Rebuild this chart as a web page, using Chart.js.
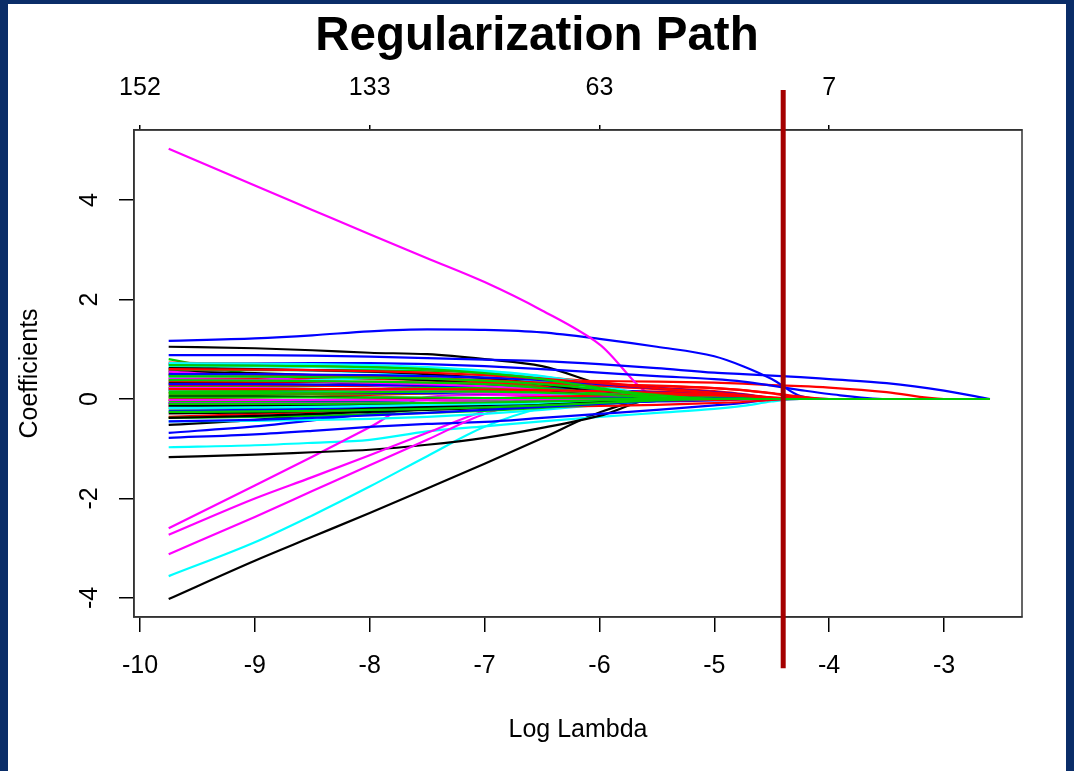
<!DOCTYPE html>
<html>
<head>
<meta charset="utf-8">
<title>Regularization Path</title>
<script src="https://cdn.jsdelivr.net/npm/chart.js@4.4.1/dist/chart.umd.min.js"></script>
<style>
  html, body { margin: 0; padding: 0; }
  body { width: 1074px; height: 771px; background: #0a2d68; overflow: hidden; }
  #panel { position: absolute; left: 8px; top: 4px; width: 1058px; height: 767px; background: #fff; }
  #chartPath { display: block; }
</style>
</head>
<body>
<div id="panel"><canvas id="chartPath" width="1058" height="767"></canvas></div>
<script>
// log(lambda) grid shared by every coefficient path
const logLambda = [-9.75, -9, -8.5, -8, -7.5, -7, -6.5, -6, -5.5, -5, -4.75, -4.5, -4.25, -4, -3.5, -3, -2.6];

// coefficient paths, grouped by line colour
const blackPaths = [
  [1.05, 1.02, 0.98, 0.93, 0.90, 0.80, 0.66, 0.30, 0,   0, 0, 0, 0, 0, 0, 0, 0],
  [-4.02, -3.25, -2.77, -2.29, -1.80, -1.30, -0.79, -0.27, 0,   0, 0, 0, 0, 0, 0, 0, 0],
  [-1.17, -1.12, -1.07, -1.02, -0.92, -0.78, -0.58, -0.34, 0,   0, 0, 0, 0, 0, 0, 0, 0],
  [-0.52, -0.42, -0.32, -0.22, -0.14, -0.08, -0.03, 0, 0,   0, 0, 0, 0, 0, 0, 0, 0],
  [0.55, 0.52, 0.48, 0.44, 0.38, 0.30, 0.20, 0.08, 0,   0, 0, 0, 0, 0, 0, 0, 0],
  [0.32, 0.33, 0.34, 0.33, 0.32, 0.28, 0.20, 0.08, 0,   0, 0, 0, 0, 0, 0, 0, 0],
  [0.05, 0.05, 0.04, 0.03, 0.02, 0.02, 0.01, 0, 0,   0, 0, 0, 0, 0, 0, 0, 0],
  [-0.29, -0.27, -0.24, -0.20, -0.16, -0.12, -0.08, -0.04, 0,   0, 0, 0, 0, 0, 0, 0, 0],
  [-0.14, -0.14, -0.13, -0.12, -0.10, -0.08, -0.05, -0.02, 0,   0, 0, 0, 0, 0, 0, 0, 0],
  [0.62, 0.60, 0.58, 0.55, 0.50, 0.42, 0.30, 0.14, 0.01,   0, 0, 0, 0, 0, 0, 0, 0],
  [-0.38, -0.34, -0.30, -0.26, -0.22, -0.18, -0.12, -0.06, 0,   0, 0, 0, 0, 0, 0, 0, 0]
];
const redPaths = [
  [0.42, 0.41, 0.41, 0.40, 0.39, 0.38, 0.37, 0.36, 0.35,   0.33, 0.31, 0.28, 0.26, 0.23, 0.14, 0, 0],
  [0.48, 0.46, 0.44, 0.42, 0.39, 0.36, 0.33, 0.30, 0.27,   0.22, 0.18, 0.12, 0.05, 0, 0, 0, 0],
  [0.73, 0.71, 0.69, 0.66, 0.60, 0.52, 0.44, 0.34, 0.22,   0.12, 0.07, 0.02, 0, 0, 0, 0, 0],
  [0.28, 0.28, 0.27, 0.26, 0.25, 0.25, 0.25, 0.24, 0.22,   0.16, 0.10, 0.03, 0, 0, 0, 0, 0],
  [0.01, 0.03, 0.05, 0.08, 0.11, 0.14, 0.16, 0.16, 0.15,   0.12, 0.08, 0.02, 0, 0, 0, 0, 0],
  [0.12, 0.12, 0.12, 0.12, 0.12, 0.12, 0.11, 0.10, 0.08,   0.05, 0.03, 0.01, 0, 0, 0, 0, 0],
  [-0.36, -0.30, -0.26, -0.22, -0.20, -0.18, -0.16, -0.14, -0.12,   -0.08, -0.06, -0.02, 0, 0, 0, 0, 0],
  [-0.14, -0.13, -0.12, -0.11, -0.10, -0.08, -0.06, -0.04, -0.03,   -0.02, -0.01, 0, 0, 0, 0, 0, 0],
  [0.36, 0.35, 0.35, 0.34, 0.33, 0.32, 0.30, 0.28, 0.26,   0.22, 0.18, 0.11, 0.02, 0, 0, 0, 0],
  [0.50, 0.49, 0.47, 0.45, 0.42, 0.38, 0.33, 0.27, 0.20,   0.12, 0.07, 0.02, 0, 0, 0, 0, 0],
  [-0.02, -0.02, -0.02, -0.01, -0.01, 0.01, 0.04, 0.07, 0.08,   0.07, 0.06, 0.03, 0.01, 0, 0, 0, 0],
  [0.60, 0.59, 0.58, 0.56, 0.53, 0.48, 0.41, 0.32, 0.22,   0.13, 0.08, 0.03, 0, 0, 0, 0, 0],
  [0.20, 0.20, 0.20, 0.20, 0.20, 0.19, 0.18, 0.16, 0.13,   0.09, 0.06, 0.02, 0, 0, 0, 0, 0]
];
const greenPaths = [
  [0.80, 0.50, 0.46, 0.42, 0.38, 0.32, 0.24, 0.14, 0.04,   0, 0, 0, 0, 0, 0, 0, 0],
  [0.58, 0.58, 0.58, 0.58, 0.57, 0.52, 0.42, 0.25, 0.06,   0, 0, 0, 0, 0, 0, 0, 0],
  [0.25, 0.25, 0.26, 0.28, 0.30, 0.30, 0.26, 0.18, 0.08,   0.02, 0, 0, 0, 0, 0, 0, 0],
  [0.22, 0.21, 0.20, 0.19, 0.18, 0.17, 0.14, 0.10, 0.05,   0, 0, 0, 0, 0, 0, 0, 0],
  [0.08, 0.08, 0.09, 0.10, 0.12, 0.13, 0.12, 0.08, 0.03,   0, 0, 0, 0, 0, 0, 0, 0],
  [-0.19, -0.19, -0.19, -0.18, -0.17, -0.15, -0.12, -0.08, -0.04,   0, 0, 0, 0, 0, 0, 0, 0],
  [-0.38, -0.36, -0.34, -0.31, -0.28, -0.24, -0.18, -0.10, -0.02,   0, 0, 0, 0, 0, 0, 0, 0],
  [0.15, 0.16, 0.18, 0.20, 0.22, 0.22, 0.20, 0.15, 0.10,   0.05, 0.02, 0, 0, 0, 0, 0, 0],
  [-0.04, -0.04, -0.03, -0.03, -0.02, -0.02, -0.01, 0, 0,   0, 0, 0, 0, 0, 0, 0, 0],
  [0.38, 0.37, 0.36, 0.35, 0.33, 0.30, 0.22, 0.12, 0.03,   0, 0, 0, 0, 0, 0, 0, 0],
  [0.03, 0.03, 0.03, 0.03, 0.03, 0.02, 0.02, 0.01, 0.01,   0.01, 0.01, 0.01, 0, 0, 0, 0, 0],
  [-0.26, -0.25, -0.24, -0.22, -0.20, -0.17, -0.13, -0.08, -0.03,   0, 0, 0, 0, 0, 0, 0, 0],
  [0.46, 0.45, 0.44, 0.43, 0.41, 0.37, 0.30, 0.20, 0.08,   0, 0, 0, 0, 0, 0, 0, 0],
  [0.68, 0.67, 0.66, 0.64, 0.60, 0.52, 0.40, 0.22, 0.04,   0, 0, 0, 0, 0, 0, 0, 0],
  [0.12, 0.12, 0.13, 0.14, 0.15, 0.15, 0.13, 0.09, 0.03,   0, 0, 0, 0, 0, 0, 0, 0],
  [-0.10, -0.10, -0.10, -0.09, -0.08, -0.07, -0.05, -0.03, -0.01,   0, 0, 0, 0, 0, 0, 0, 0]
];
const bluePaths = [
  [1.17, 1.22, 1.28, 1.36, 1.40, 1.39, 1.34, 1.21, 1.05,   0.86, 0.66, 0.40, 0.06, 0, 0, 0, 0],
  [0.88, 0.88, 0.87, 0.85, 0.82, 0.79, 0.76, 0.70, 0.62,   0.53, 0.50, 0.47, 0.44, 0.40, 0.32, 0.17, 0],
  [0.70, 0.71, 0.72, 0.72, 0.70, 0.66, 0.60, 0.53, 0.46,   0.40, 0.35, 0.27, 0.18, 0.10, 0, 0, 0],
  [-0.78, -0.71, -0.64, -0.56, -0.50, -0.46, -0.38, -0.30, -0.22,   -0.13, -0.08, -0.01, 0, 0, 0, 0, 0],
  [-0.68, -0.55, -0.43, -0.30, -0.20, -0.12, -0.06, -0.02, 0,   0, 0, 0, 0, 0, 0, 0, 0],
  [0.18, 0.17, 0.15, 0.13, 0.12, 0.11, 0.09, 0.08, 0.08,   0.06, 0.03, 0, 0, 0, 0, 0, 0],
  [-0.24, -0.22, -0.20, -0.18, -0.16, -0.14, -0.11, -0.08, -0.05,   -0.03, -0.01, 0, 0, 0, 0, 0, 0],
  [0.30, 0.30, 0.29, 0.28, 0.27, 0.25, 0.22, 0.18, 0.14,   0.08, 0.05, 0.01, 0, 0, 0, 0, 0],
  [-0.08, -0.07, -0.06, -0.04, -0.02, 0, 0.02, 0.03, 0.03,   0.02, 0.01, 0, 0, 0, 0, 0, 0],
  [0.50, 0.50, 0.49, 0.48, 0.46, 0.43, 0.38, 0.30, 0.22,   0.14, 0.09, 0.02, 0, 0, 0, 0, 0],
  [-0.45, -0.42, -0.38, -0.33, -0.28, -0.22, -0.16, -0.10, -0.04,   0, 0, 0, 0, 0, 0, 0, 0]
];
const cyanPaths = [
  [-3.56, -2.88, -2.34, -1.76, -1.15, -0.56, -0.18, -0.05, 0,   0, 0, 0, 0, 0, 0, 0, 0],
  [-0.97, -0.93, -0.88, -0.82, -0.65, -0.55, -0.45, -0.36, -0.28,   -0.20, -0.14, -0.05, 0, 0, 0, 0, 0],
  [0.66, 0.65, 0.64, 0.62, 0.60, 0.55, 0.45, 0.25, 0.02,   0, 0, 0, 0, 0, 0, 0, 0],
  [0.62, 0.60, 0.57, 0.54, 0.49, 0.42, 0.32, 0.18, 0,   0, 0, 0, 0, 0, 0, 0, 0],
  [0.35, 0.36, 0.38, 0.42, 0.46, 0.44, 0.36, 0.20, 0.02,   0, 0, 0, 0, 0, 0, 0, 0],
  [-0.45, -0.44, -0.42, -0.40, -0.36, -0.30, -0.22, -0.12, -0.04,   0, 0, 0, 0, 0, 0, 0, 0],
  [0.45, 0.46, 0.47, 0.48, 0.48, 0.44, 0.35, 0.22, 0.08,   0, 0, 0, 0, 0, 0, 0, 0],
  [0.18, 0.18, 0.17, 0.16, 0.15, 0.13, 0.10, 0.06, 0.02,   0, 0, 0, 0, 0, 0, 0, 0],
  [0.72, 0.71, 0.70, 0.68, 0.64, 0.57, 0.46, 0.28, 0.05,   0, 0, 0, 0, 0, 0, 0, 0],
  [-0.18, -0.17, -0.16, -0.14, -0.12, -0.10, -0.08, -0.05, -0.02,   0, 0, 0, 0, 0, 0, 0, 0]
];
const magentaPaths = [
  [5.03, 4.29, 3.80, 3.31, 2.83, 2.35, 1.78, 1.10, 0.05,   0, 0, 0, 0, 0, 0, 0, 0],
  [-2.60, -1.74, -1.16, -0.57, 0.04, 0.08, 0.05, 0.02, 0,   0, 0, 0, 0, 0, 0, 0, 0],
  [-2.73, -2.00, -1.57, -1.13, -0.68, -0.24, 0.04, 0.02, 0,   0, 0, 0, 0, 0, 0, 0, 0],
  [-3.12, -2.37, -1.85, -1.33, -0.82, -0.30, -0.04, 0, 0,   0, 0, 0, 0, 0, 0, 0, 0],
  [0.55, 0.45, 0.36, 0.28, 0.20, 0.13, 0.07, 0.02, 0,   0, 0, 0, 0, 0, 0, 0, 0],
  [-0.07, -0.07, -0.07, -0.07, -0.07, -0.06, -0.05, -0.03, 0,   0, 0, 0, 0, 0, 0, 0, 0],
  [-0.11, -0.11, -0.10, -0.09, -0.08, -0.07, -0.05, -0.02, 0,   0, 0, 0, 0, 0, 0, 0, 0],
  [0.22, 0.22, 0.20, 0.18, 0.15, 0.12, 0.08, 0.04, 0,   0, 0, 0, 0, 0, 0, 0, 0],
  [-0.09, -0.09, -0.09, -0.08, -0.08, -0.07, -0.06, -0.04, -0.01,   0, 0, 0, 0, 0, 0, 0, 0],
  [0.40, 0.38, 0.36, 0.33, 0.30, 0.26, 0.20, 0.12, 0.03,   0, 0, 0, 0, 0, 0, 0, 0],
  [-0.02, -0.02, -0.02, -0.02, -0.02, -0.01, -0.01, 0, 0,   0, 0, 0, 0, 0, 0, 0, 0]
];

// axis ticks; the top axis shows the number of nonzero coefficients
const xTicks = [-10, -9, -8, -7, -6, -5, -4, -3];
const yTicks = [-4, -2, 0, 2, 4];
const topTicks = [-10, -8, -6, -4];
const topLabels = ['152', '133', '63', '7'];

// chosen log(lambda), marked by the vertical red line
const chosenLogLambda = -4.4;

const X_MIN = -10.052, X_MAX = -2.321;
const Y_MIN = -4.382, Y_MAX = 5.407;
const FONT = "'Liberation Sans', Arial, Helvetica, sans-serif";

// R-style colour cycle; greens go last so the zero line ends up green
const groups = [
  { color: '#000000', paths: blackPaths },
  { color: '#FF0000', paths: redPaths },
  { color: '#0000FF', paths: bluePaths },
  { color: '#00FFFF', paths: cyanPaths },
  { color: '#FF00FF', paths: magentaPaths },
  { color: '#00CD00', paths: greenPaths }
];

const drawSeq = [];
const rounds = Math.max(...groups.map(g => g.paths.length));
for (let k = 0; k < rounds; k++) {
  groups.forEach(g => {
    if (k < g.paths.length) drawSeq.push({ color: g.color, values: g.paths[k] });
  });
}

// Chart.js paints dataset 0 last, so reverse the sequence
const datasets = drawSeq.slice().reverse().map(s => ({
  data: s.values.map((v, i) => ({ x: logLambda[i], y: v })),
  borderColor: s.color,
  borderWidth: 2.2,
  pointRadius: 0,
  fill: false,
  cubicInterpolationMode: 'monotone'
}));

const pathDecor = {
  id: 'pathDecor',
  afterDraw(chart) {
    const { ctx, chartArea: a, scales } = chart;
    const xs = scales.x, ys = scales.y;
    ctx.save();

    // plot frame
    ctx.strokeStyle = '#333';
    ctx.lineWidth = 1.5;
    ctx.strokeRect(a.left, a.top, a.right - a.left, a.bottom - a.top);

    ctx.fillStyle = '#000';
    ctx.font = `25px ${FONT}`;
    ctx.textAlign = 'center';
    ctx.textBaseline = 'alphabetic';

    xTicks.forEach(v => ctx.fillText(String(v), xs.getPixelForValue(v), a.bottom + 56));
    topTicks.forEach((v, i) => ctx.fillText(topLabels[i], xs.getPixelForValue(v), a.top - 35));
    ctx.fillText('Log Lambda', (a.left + a.right) / 2, a.bottom + 120);

    // rotated y tick labels and axis title
    yTicks.forEach(v => {
      ctx.save();
      ctx.translate(a.left - 37, ys.getPixelForValue(v));
      ctx.rotate(-Math.PI / 2);
      ctx.fillText(String(v), 0, 0);
      ctx.restore();
    });
    ctx.save();
    ctx.translate(a.left - 97, (a.top + a.bottom) / 2);
    ctx.rotate(-Math.PI / 2);
    ctx.fillText('Coefficients', 0, 0);
    ctx.restore();

    // title
    ctx.font = `bold 47.5px ${FONT}`;
    ctx.fillText('Regularization Path', chart.width / 2, 46);

    // selected lambda
    const rx = xs.getPixelForValue(chosenLogLambda);
    ctx.strokeStyle = '#a50000';
    ctx.lineWidth = 5;
    ctx.beginPath();
    ctx.moveTo(rx, ys.getPixelForValue(6.21));
    ctx.lineTo(rx, ys.getPixelForValue(-5.41));
    ctx.stroke();

    ctx.restore();
  }
};

const tickGrid = len => ({ drawOnChartArea: false, drawTicks: true, tickLength: len, color: '#000', lineWidth: 1.5 });
const frameBorder = { display: true, color: '#333', width: 1.5 };

new Chart(document.getElementById('chartPath'), {
  type: 'line',
  data: { datasets },
  options: {
    responsive: false,
    animation: false,
    events: [],
    layout: { padding: { left: 0, top: 0, right: 44, bottom: 0 } },
    plugins: { legend: { display: false }, tooltip: { enabled: false } },
    scales: {
      x: {
        type: 'linear', position: 'bottom', min: X_MIN, max: X_MAX,
        afterBuildTicks: s => { s.ticks = xTicks.map(v => ({ value: v })); },
        afterFit: s => { s.height = 154; },
        ticks: { display: false },
        grid: tickGrid(15),
        border: frameBorder
      },
      xTop: {
        axis: 'x', type: 'linear', position: 'top', min: X_MIN, max: X_MAX,
        afterBuildTicks: s => { s.ticks = topTicks.map(v => ({ value: v })); },
        afterFit: s => { s.height = 126; },
        ticks: { display: false },
        grid: tickGrid(5),
        border: frameBorder
      },
      y: {
        type: 'linear', position: 'left', min: Y_MIN, max: Y_MAX,
        afterBuildTicks: s => { s.ticks = yTicks.map(v => ({ value: v })); },
        afterFit: s => { s.width = 126; },
        ticks: { display: false },
        grid: tickGrid(15),
        border: frameBorder
      }
    }
  },
  plugins: [pathDecor]
});
</script>
</body>
</html>
